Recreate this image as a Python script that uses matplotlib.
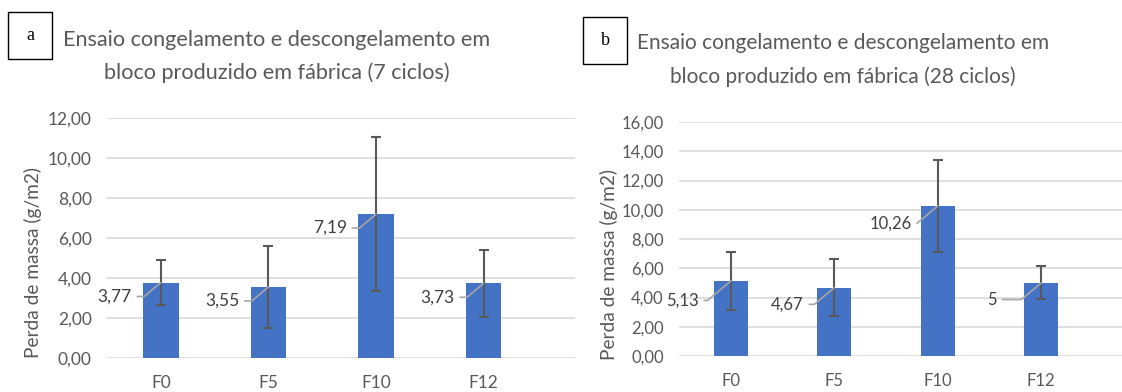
import matplotlib.pyplot as plt
from matplotlib.patches import Rectangle

plt.rcParams['font.family'] = ['Lato', 'DejaVu Sans']

categories = ["F0", "F5", "F10", "F12"]

# 7 ciclos
mean_7 = [3.77, 3.55, 7.19, 3.73]
err_7 = [1.13, 2.05, 3.85, 1.67]
labels_7 = ["3,77", "3,55", "7,19", "3,73"]

# 28 ciclos
mean_28 = [5.13, 4.67, 10.26, 5.0]
err_28 = [1.97, 1.95, 3.15, 1.12]
labels_28 = ["5,13", "4,67", "10,26", "5"]

bar_color = "#4472C4"
text_color = "#595959"
grid_color = "#d9d9d9"

fig = plt.figure(figsize=(11.22, 3.92), dpi=100)

panels = [
    dict(rect=[107 / 1122, 1 - 358 / 392, 468 / 1122, 240 / 392], means=mean_7, errs=err_7,
         labels=labels_7, ymax=12, xmax=3.85, tick_size=12.5, label_offsets=[(-21, -10)] * 4),
    dict(rect=[679 / 1122, 1 - 356 / 392, 443 / 1122, 234 / 392], means=mean_28, errs=err_28,
         labels=labels_28, ymax=16, xmax=3.78, tick_size=12,
         label_offsets=[(-23, -14), (-22, -12), (-19, -13), (-32, -12)]),
]

for p in panels:
    ax = fig.add_axes(p["rect"])
    x = range(len(categories))
    ax.bar(x, p["means"], width=0.33, color=bar_color, zorder=2)
    ax.errorbar(x, p["means"], yerr=p["errs"], fmt="none", ecolor="#595959",
                elinewidth=1.5, capsize=3.5, capthick=1.5, zorder=3)
    for i, (v, lab) in enumerate(zip(p["means"], p["labels"])):
        ax.annotate(lab, xy=(i, v), xytext=p["label_offsets"][i], textcoords="offset points",
                    ha="right", va="center", fontsize=p["tick_size"], color="#404040",
                    arrowprops=dict(arrowstyle="-", color="#a6a6a6", lw=1.2, shrinkA=2, shrinkB=0,
                                    connectionstyle="angle,angleA=0,angleB=40,rad=0"),
                    zorder=4)
    ax.set_ylim(0, p["ymax"])
    ax.set_xlim(-0.5, p["xmax"])
    ax.set_yticks(range(0, p["ymax"] + 1, 2))
    ax.set_yticklabels([f"{t},00" for t in range(0, p["ymax"] + 1, 2)])
    ax.set_xticks(list(x))
    ax.set_xticklabels(categories)
    ax.grid(axis="y", color=grid_color, lw=1.2, zorder=0)
    ax.set_axisbelow(True)
    for s in ax.spines.values():
        s.set_visible(False)
    ax.tick_params(length=0, colors=text_color, labelsize=p["tick_size"])
    ax.tick_params(axis="y", pad=11)
    ax.tick_params(axis="x", pad=12)

# titles, y-labels and panel letters
fig.text(277 / 1122, 1 - 40 / 392, "Ensaio congelamento e descongelamento em",
         ha="center", va="center", fontsize=15.6, color=text_color)
fig.text(277 / 1122, 1 - 73 / 392, "bloco produzido em fábrica (7 ciclos)",
         ha="center", va="center", fontsize=15.6, color=text_color)
fig.text(843 / 1122, 1 - 43 / 392, "Ensaio congelamento e descongelamento em",
         ha="center", va="center", fontsize=15, color=text_color)
fig.text(843 / 1122, 1 - 77 / 392, "bloco produzido em fábrica (28 ciclos)",
         ha="center", va="center", fontsize=15, color=text_color)

fig.text(33 / 1122, 1 - 262 / 392, "Perda de massa (g/m2)", rotation=90,
         ha="center", va="center", fontsize=13.8, color=text_color)
fig.text(609 / 1122, 1 - 265 / 392, "Perda de massa (g/m2)", rotation=90,
         ha="center", va="center", fontsize=13.8, color=text_color)

for letter, (x0, y0, x1, y1) in [("a", (8, 12, 52, 59)), ("b", (583, 17, 627, 64))]:
    fig.patches.append(Rectangle((x0 / 1122, 1 - y1 / 392), (x1 - x0) / 1122, (y1 - y0) / 392,
                                 transform=fig.transFigure, fill=False, edgecolor="black", lw=1))
    fig.text((x0 + x1) / 2 / 1122, 1 - (y0 + y1) / 2 / 392, letter, ha="center", va="center",
             fontsize=13, family="Liberation Serif", color="black")

fig.savefig("out.png", dpi=100)
